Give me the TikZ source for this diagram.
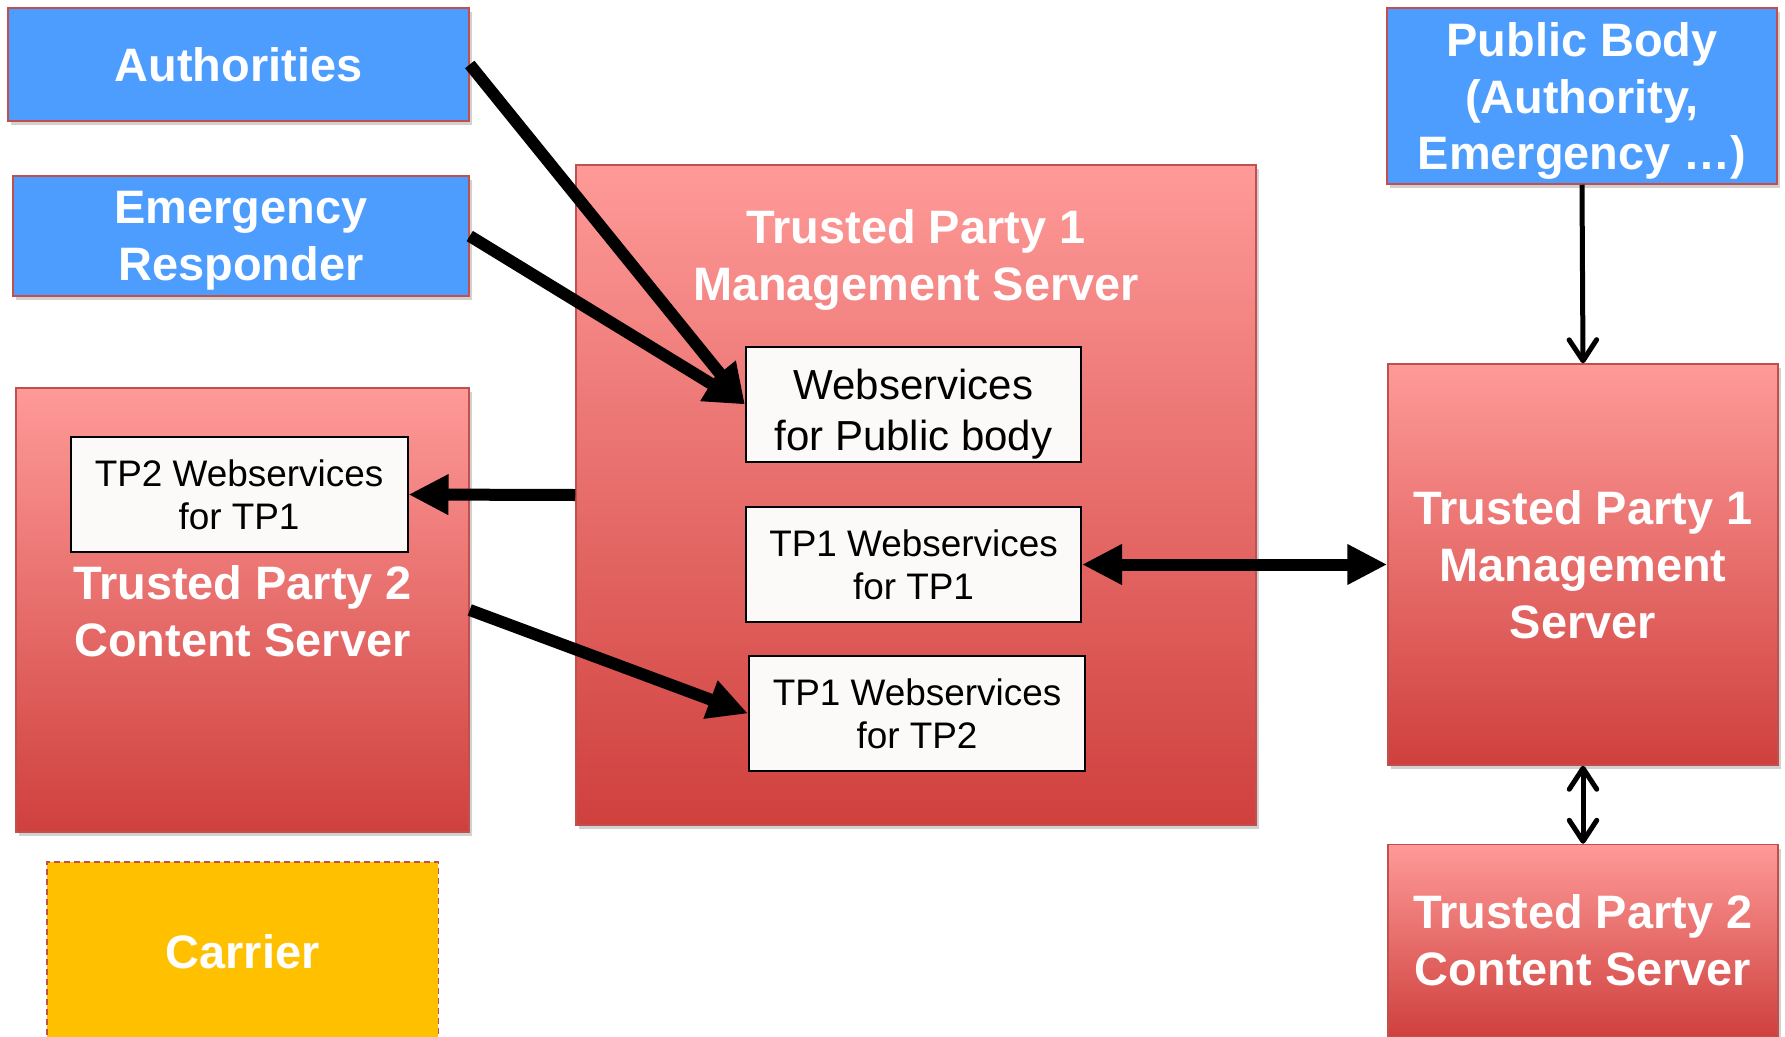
\documentclass[tikz,border=0pt]{standalone}
\usepackage{fontspec}
\setmainfont{Liberation Sans}
\usetikzlibrary{arrows.meta,shadows}

\definecolor{pubblue}{HTML}{4D9DFF}
\definecolor{boxedge}{HTML}{C0504D}
\definecolor{tptop}{HTML}{FE9A98}
\definecolor{tpbottom}{HTML}{CF403D}
\definecolor{carrierfill}{HTML}{FFC000}
\definecolor{wsfill}{HTML}{FBFAF8}

\begin{document}
\begin{tikzpicture}[
            every node/.style={inner sep=0pt},
            headtxt/.style={font=\bfseries\fontsize{26.7}{32.4}\selectfont, text=white, align=center},
            boxshadow/.style={drop shadow={shadow xshift=0.06cm, shadow yshift=-0.08cm, opacity=0.3, fill=black!60}},
            actor/.style={rectangle, draw=boxedge, line width=0.03cm, fill=pubblue, headtxt, boxshadow},
            server/.style={rectangle, draw=boxedge, line width=0.03cm, top color=tptop, bottom color=tpbottom, headtxt, boxshadow},
            ws/.style={rectangle, draw=black, line width=0.04cm, fill=wsfill, align=center, minimum height=2.30cm, font=\fontsize{23.9}{29}\selectfont},
            wssmall/.style={ws, font=\fontsize{21}{24.5}\selectfont},
            arrow/.style={-{Triangle[length=0.8cm, width=0.76cm]}, line width=0.24cm},
            dblarrow/.style={arrow, {Triangle[length=0.8cm, width=0.76cm]}-{Triangle[length=0.8cm, width=0.76cm]}},
            link/.style={-{Straight Barb[round, length=0.42cm, width=0.55cm]}, line width=0.1cm},
            dbllink/.style={link, {Straight Barb[round, length=0.42cm, width=0.55cm]}-{Straight Barb[round, length=0.42cm, width=0.55cm]}}
        ]
        \useasboundingbox (0cm, 0cm) rectangle (35.70cm, -20.72cm);

        \node[actor, minimum width=9.22cm, minimum height=2.26cm] (auth)  at ( 4.77cm, -1.29cm) {Authorities};
        \node[actor, minimum width=9.12cm, minimum height=2.40cm, text depth=0cm] (emerg) at ( 4.82cm, -4.72cm) {Emergency\\Responder};
        \node[actor, minimum width=7.80cm, minimum height=3.52cm, text depth=0cm] (pub)   at (31.64cm, -1.92cm) {Public Body\\(Authority,\\Emergency …)};

        % TP1 management server with its webservices
        \node[server, minimum width=13.60cm, minimum height=13.20cm] (tpone) at (18.32cm, -9.90cm) {};
        \node[headtxt] (tponetitle) at (18.32cm, -5.19cm) {Trusted Party 1\\Management Server};
        \node[ws, minimum width=6.70cm, text depth=0cm, text height=1.82cm] (wspub) at (18.27cm,  -8.09cm) {Webservices\\for Public body};
        \node[wssmall, minimum width=6.70cm] (wsone) at (18.27cm, -11.29cm) {TP1 Webservices\\for TP1};
        \node[wssmall, minimum width=6.72cm] (wstwo) at (18.34cm, -14.27cm) {TP1 Webservices\\for TP2};

        % TP2 content server
        \node[server, minimum width=9.06cm, minimum height=8.88cm] (tptwo) at (4.85cm, -12.20cm) {};
        \node[wssmall, minimum width=6.74cm] (tptwows) at (4.78cm, -9.89cm) {TP2 Webservices\\for TP1};
        \node[headtxt] (tptwotitle) at (4.85cm, -12.23cm) {Trusted Party 2\\Content Server};

        \node[rectangle, draw=boxedge, line width=0.03cm, dash pattern=on 0.12cm off 0.08cm, fill=carrierfill, headtxt,
              minimum width=7.83cm, minimum height=3.60cm] (carrier) at (4.85cm, -19.04cm) {Carrier};

        \node[server, minimum width=7.80cm, minimum height=8.02cm] (tpmgmt)    at (31.66cm, -11.29cm) {Trusted Party 1\\Management\\Server};
        \node[server, minimum width=7.80cm, minimum height=3.84cm] (tpcontent) at (31.66cm, -18.81cm) {Trusted Party 2\\Content Server};

        \draw[arrow] (auth.east) -- (wspub.west);
        \draw[arrow] (emerg.east) -- (wspub.west);
        \draw[arrow] (tpone.west) -- (tptwows.east);
        \draw[arrow] (tptwo.east) -- (wstwo.west);
        \draw[dblarrow] (wsone.east) -- (tpmgmt.west);
        \draw[link] (pub.south) -- (tpmgmt.north);
        \draw[dbllink] (tpmgmt.south) -- (tpcontent.north);

    \end{tikzpicture}
\end{document}
